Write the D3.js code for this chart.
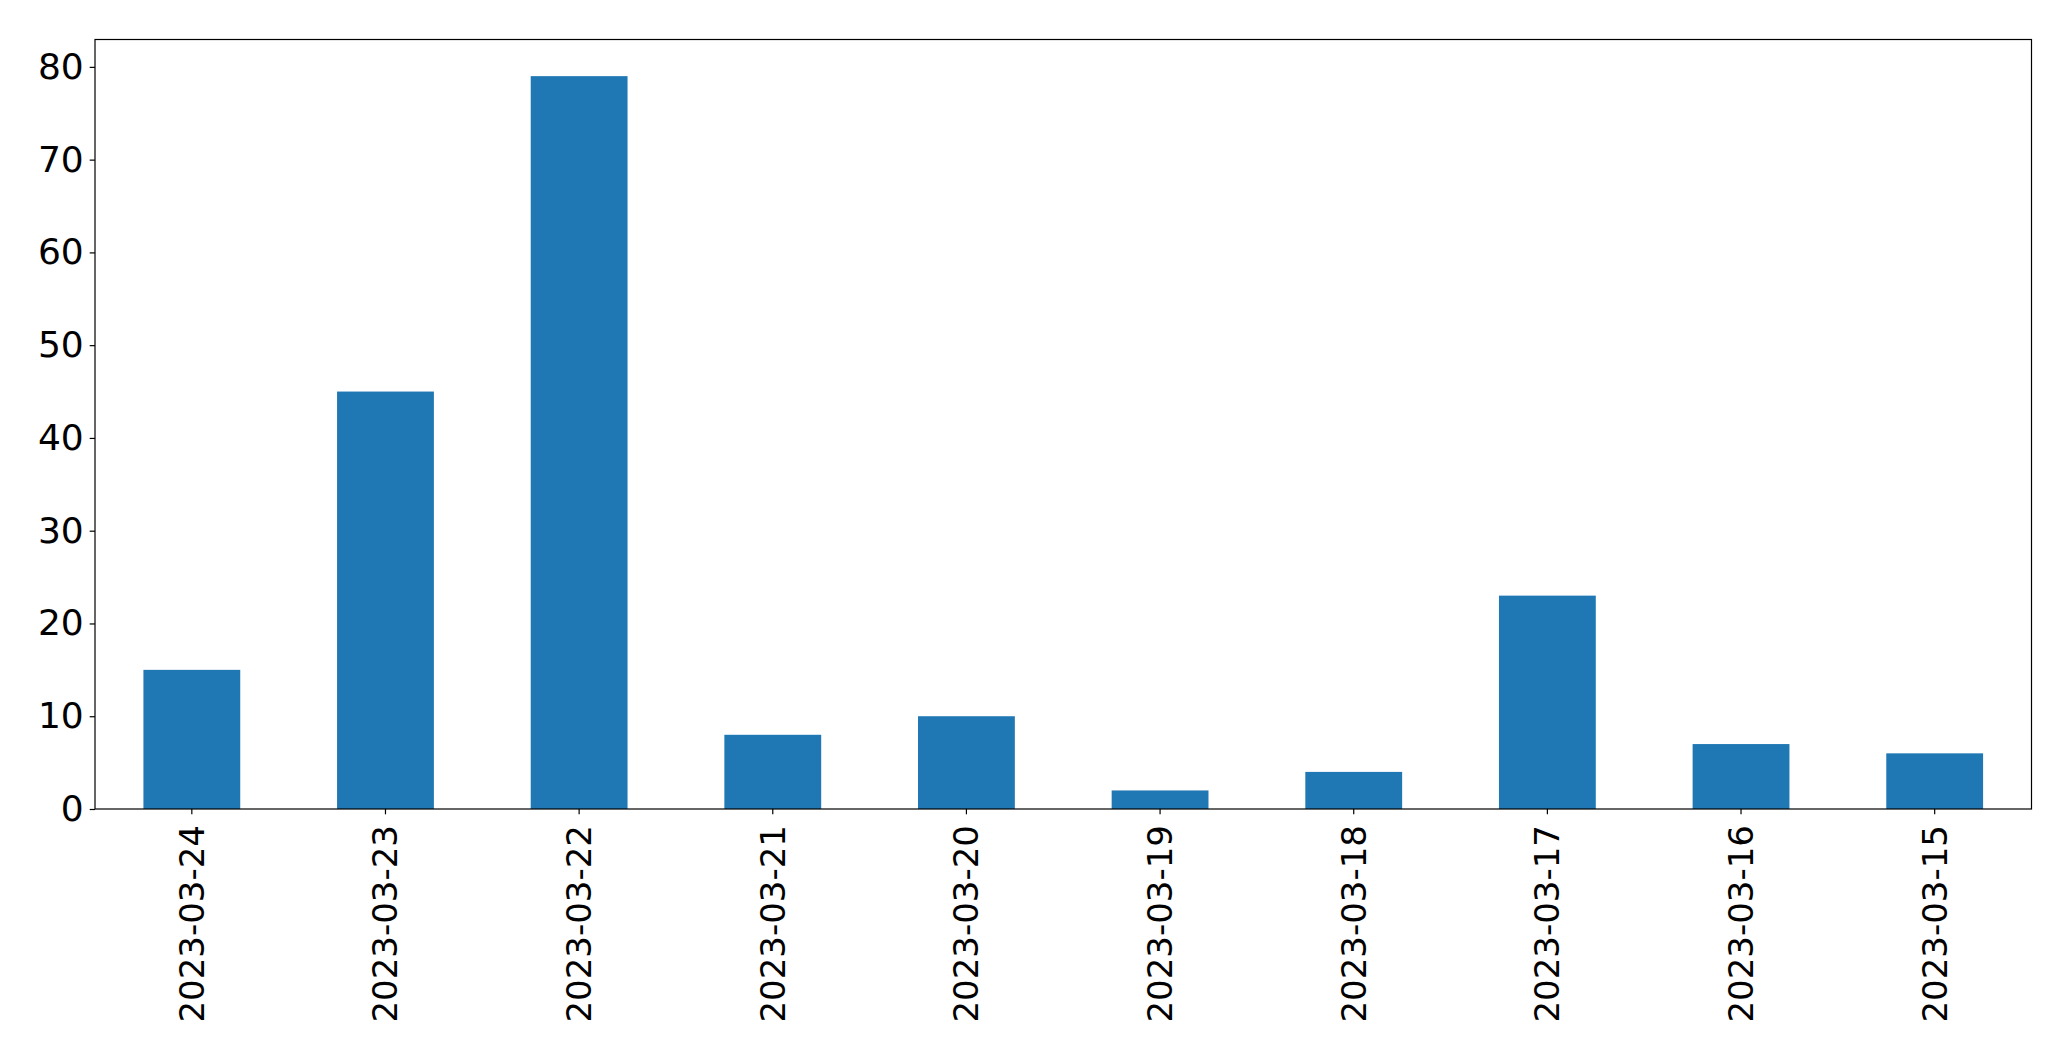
<!DOCTYPE html>
<html><head><meta charset="utf-8">
<script src="https://cdn.jsdelivr.net/npm/d3@7"></script>
<style>body{margin:0;background:#fff}svg{display:block}</style>
</head><body>
<script>
const categories = ["2023-03-24","2023-03-23","2023-03-22","2023-03-21","2023-03-20","2023-03-19","2023-03-18","2023-03-17","2023-03-16","2023-03-15"];
const values = [15,45,79,8,10,2,4,23,7,6];
const yTicks = [0,10,20,30,40,50,60,70,80];

const W=2071,H=1061;
const L=95,R=2031.5,T=39.5,B=809;
const svg=d3.select("body").append("svg").attr("width",W).attr("height",H);
const x=d3.scaleBand().domain(categories).range([L,R]).paddingInner(0.5).paddingOuter(0.25);
const y=d3.scaleLinear().domain([0,d3.max(values)*1.05]).range([B,T]);

svg.append("g").selectAll("rect").data(values).join("rect")
  .attr("x",(d,i)=>x(categories[i])).attr("width",x.bandwidth())
  .attr("y",d=>y(d)).attr("height",d=>B-y(d)).attr("fill","#1f77b4");

const font="'DejaVu Sans', sans-serif";
const ya=svg.append("g").attr("transform",`translate(${L},0)`)
  .call(d3.axisLeft(y).tickValues(yTicks).tickSize(5.3).tickPadding(6));
ya.select(".domain").remove();
ya.selectAll("text").attr("font-size",36).attr("font-family",font).attr("fill","#000");
ya.selectAll("line").attr("stroke","#000").attr("stroke-width",1.2);

const xa=svg.append("g").attr("transform",`translate(0,${B})`)
  .call(d3.axisBottom(x).tickSize(5.3).tickPadding(0));
xa.select(".domain").remove();
xa.selectAll("line").attr("stroke","#000").attr("stroke-width",1.2);
xa.selectAll("text").attr("font-size",34).attr("font-family",font).attr("fill","#000")
  .attr("text-anchor","end").attr("dy","0.35em").attr("y",0).attr("x",0)
  .attr("transform","translate(0,16) rotate(-90)");

svg.append("rect").attr("x",L).attr("y",T).attr("width",R-L).attr("height",B-T)
  .attr("fill","none").attr("stroke","#000").attr("stroke-width",1.2);
</script>
</body></html>
